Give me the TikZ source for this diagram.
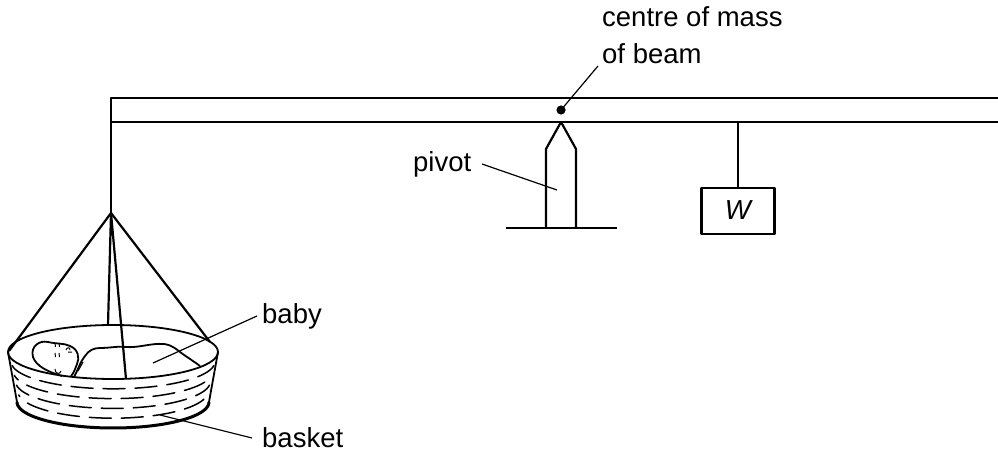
\documentclass[tikz,border=0pt]{standalone}
\usepackage{fontspec}
\setmainfont{Liberation Sans}
\begin{document}
\begin{tikzpicture}[x=1pt,y=-1pt,
  line join=round,
  thick line/.style={line width=2.2pt},
  thin line/.style={line width=1.8pt},
  leader/.style={line width=1.2pt},
  lbl/.style={inner sep=0pt, font=\fontsize{27.5}{33}\selectfont},
  wave/.style={line width=1.5pt, dash pattern=on 22pt off 10pt, line cap=round}]
\useasboundingbox (0,0) rectangle (998,454);

% ---------- key points ----------
\coordinate (beamTL) at (111,98);
\coordinate (beamTR) at (998,98);
\coordinate (beamBL) at (111,122);
\coordinate (beamBR) at (998,122);
\coordinate (hang) at (111,213);
\coordinate (rimL) at (8,352);
\coordinate (rimR) at (218,352);
\coordinate (botL) at (17,402);
\coordinate (botR) at (209,402);
\coordinate (strL) at (9,351);
\coordinate (strR) at (210,342);
\coordinate (strB) at (108,325);
\coordinate (strF) at (126,379);
\coordinate (tip) at (561,122);
\coordinate (pivSL) at (546,149);
\coordinate (pivSR) at (576,149);
\coordinate (pivBL) at (546,228);
\coordinate (pivBR) at (576,228);
\coordinate (baseL) at (506,228);
\coordinate (baseR) at (617,228);
\coordinate (Whang) at (738,122);

% ---------- beam ----------
\draw[thick line] (beamTR) -- (beamTL) -- (hang);
\draw[thick line] (beamBL) -- (beamBR);

% ---------- centre of mass ----------
\fill (561,110) circle (4.6pt) coordinate (cm);
\node[lbl, anchor=base west] (cmtext1) at (602,27) {centre of mass};
\node[lbl, anchor=base west] (cmtext2) at (602,64) {of beam};
\coordinate (cmlead) at (598,66);
\draw[leader] (cmlead) -- (cm);

% ---------- pivot ----------
\draw[thick line] (pivBL) -- (pivSL) -- (tip) -- (pivSR) -- (pivBR);
\draw[thick line] (baseL) -- (baseR);
\node[lbl, anchor=base west] (pivtext) at (413,172) {pivot};
\coordinate (pivleadA) at (482,164);
\coordinate (pivleadB) at (557,190);
\draw[leader] (pivleadA) -- (pivleadB);

% ---------- weight W ----------
\node[draw, thick line, minimum width=73pt, minimum height=46pt, inner sep=0pt,
      anchor=north] (Wbox) at (738,187) {};
\draw[thick line] (Whang) -- (Wbox.north);
\node[lbl, anchor=base] (Wtext) at (739,220) {\textit{W}};

% ---------- basket ----------
\draw[thin line] (113,352) ellipse [x radius=105, y radius=27];
\draw[thin line] (rimL) -- (botL);
\draw[thin line] (rimR) -- (botR);
\draw[line width=3pt] plot[domain=0:180, samples=80] ({113+96*cos(\x)},{402+26*sin(\x)});

% weave marks
\begin{scope}
  \clip (rimL) -- (botL) -- plot[domain=180:0, samples=80] ({113+96*cos(\x)},{402+26*sin(\x)})
        -- (rimR) -- plot[domain=0:180, samples=80] ({113+105*cos(\x)},{352+27*sin(\x)}) -- cycle;
  \foreach \k/\ph in {1/0, 2/16, 3/6, 4/20} {
    \draw[wave, dash phase=\ph pt] plot[domain=172:8, samples=90]
      ({113+(104-2.2*\k)*cos(\x)},{352+9.8*\k+27*sin(\x)});
  }
\end{scope}

% ---------- strings ----------
\draw[thick line] (strL) -- (hang) -- (strR);
\draw[thick line] (strB) -- (hang) -- (strF);

% ---------- baby ----------
% head
\draw[thin line] (62,376) .. controls (48,372) and (36,366) .. (33,357)
   .. controls (30,346) and (40,340) .. (48,342)
   .. controls (56,344) and (64,343) .. (70,346)
   .. controls (78,349) and (80,358) .. (77,364)
   .. controls (75,369) and (74,373) .. (71,376);
% shoulder + blanket
\draw[thin line] (74,377) .. controls (78,370) and (80,362) .. (85,356)
   .. controls (89,350) and (94,348) .. (100,348)
   .. controls (110,348) and (118,346) .. (125,347)
   .. controls (140,348) and (150,343) .. (164,344)
   .. controls (172,345) and (176,349) .. (180,352)
   .. controls (188,358) and (195,362) .. (200,366);
\draw[leader] (78,371) -- (83,362);
% face marks
\draw[line width=1pt] (55,343) -- (55.5,347) (59,343) -- (59.5,347);
\draw[line width=1pt] (55,353) -- (55.5,357) (59,353) -- (59.5,357);
\draw[line width=1pt] (66,350) .. controls (67,347) and (70,347) .. (70,350)
   (68,352) -- (72,352);
\draw[line width=1pt] (55,369) .. controls (55,374) and (60,375) .. (61,371);

% ---------- labels ----------
\node[lbl, anchor=base west] (babytext) at (262,323) {baby};
\coordinate (babyleadA) at (257,316);
\coordinate (babyleadB) at (153,363);
\draw[leader] (babyleadA) -- (babyleadB);
\node[lbl, anchor=base west] (baskettext) at (262,447) {basket};
\coordinate (basketleadA) at (252,438);
\coordinate (basketleadB) at (160,415);
\draw[leader] (basketleadA) -- (basketleadB);
\end{tikzpicture}
\end{document}
